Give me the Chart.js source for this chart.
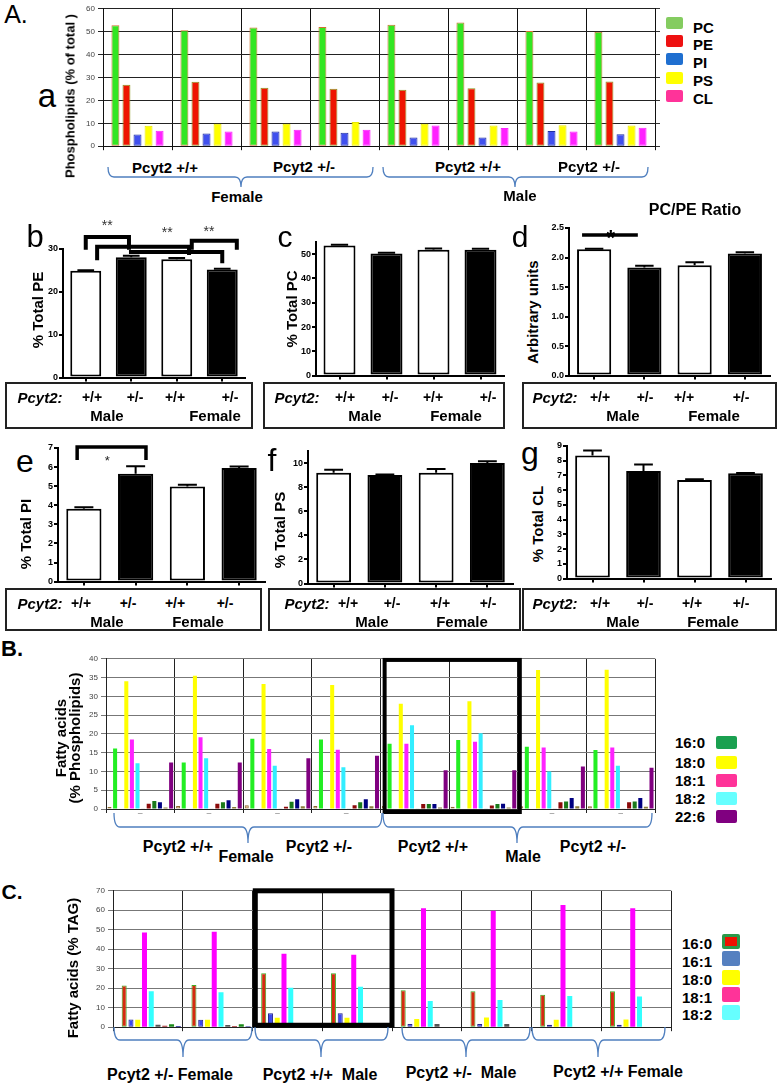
<!DOCTYPE html>
<html>
<head>
<meta charset="utf-8">
<script src="https://cdn.jsdelivr.net/npm/chart.js@4.4.1/dist/chart.umd.min.js"></script>
<style>
body { margin:0; background:#fff; }
#page { position:relative; width:780px; height:1085px; overflow:hidden; font-family:"Liberation Sans", Arial, sans-serif; color:#000; }
#page canvas { position:absolute; }
.t { position:absolute; white-space:pre; line-height:1; transform:translate(-50%,-50%); }
.r { transform:translate(-50%,-50%) rotate(-90deg); text-align:center; }
.box { position:absolute; border:2px solid #222; box-sizing:border-box; }
#braces { position:absolute; left:0; top:0; }
</style>
</head>
<body>
<div id="page"></div>
<script>
Chart.defaults.font.family = '"Liberation Sans", Arial, sans-serif';
Chart.defaults.animation = false;
Chart.defaults.plugins.legend.display = false;
Chart.defaults.plugins.tooltip.enabled = false;

const page = document.getElementById('page');

// A. phospholipid classes (% of total), 8 animals
const A_groups = ['Female +/+', 'Female +/+', 'Female +/-', 'Female +/-', 'Male +/+', 'Male +/+', 'Male +/-', 'Male +/-'];
const A_PC = [52.8, 50.6, 51.8, 52.0, 53.0, 54.0, 50.3, 50.0];
const A_PE = [26.8, 28.1, 25.5, 25.1, 24.7, 25.3, 27.8, 28.2];
const A_PI = [5.1, 5.5, 6.4, 5.9, 3.8, 3.8, 6.6, 5.2];
const A_PS = [8.9, 9.8, 9.8, 10.6, 9.8, 9.0, 9.2, 9.0];
const A_CL = [6.8, 6.4, 7.2, 7.2, 9.0, 8.0, 6.4, 8.1];

// b-g group means and errors
const genotypes = ['+/+ Male', '+/- Male', '+/+ Female', '+/- Female'];
const pe = [24.9, 28.1, 27.6, 25.2], peErr = [0.15, 0.3, 0.3, 0.2];
const pc = [53.6, 50.3, 51.8, 51.8], pcErr = [0.3, 0.3, 0.5, 0.4];
const ratio = [2.14, 1.83, 1.87, 2.07], ratioErr = [0.01, 0.03, 0.05, 0.02];
const pi = [3.82, 5.65, 4.98, 5.95], piErr = [0.08, 0.4, 0.1, 0.08];
const ps = [9.2, 9.0, 9.2, 10.0], psErr = [0.25, 0.05, 0.3, 0.15];
const cl = [8.35, 7.3, 6.7, 7.15], clErr = [0.35, 0.45, 0.05, 0.02];

// B. fatty acids in phospholipids
const B_groups = A_groups;
const B_fa14_0 = [0.5, 0.8, 1.0, 0.8, 0.8, 0.6, 0.7, 0.7];
const B_fa16_0 = [16.1, 12.4, 18.7, 18.5, 17.4, 18.4, 16.6, 15.7];
const B_fa16_1 = [0, 0, 0, 0, 0, 0, 0, 0];
const B_fa18_0 = [34.0, 35.5, 33.3, 33.0, 28.0, 28.7, 37.0, 37.1];
const B_fa18_1 = [18.5, 19.1, 16.0, 15.8, 17.4, 17.9, 16.4, 16.4];
const B_fa18_2 = [12.2, 13.5, 11.5, 11.1, 22.3, 20.2, 10.0, 11.5];
const B_fa18_3 = [0.2, 0.2, 0.2, 0.2, 0.2, 0.2, 0.2, 0.2];
const B_fa20_3 = [1.4, 1.4, 0.6, 1.0, 1.3, 0.9, 1.8, 1.8];
const B_fa20_4 = [2.1, 1.8, 1.9, 1.8, 1.3, 1.3, 2.0, 2.0];
const B_fa20_5 = [1.8, 2.3, 2.6, 2.6, 1.3, 1.4, 2.9, 2.9];
const B_fa22_5 = [0.4, 0.5, 0.7, 0.7, 0.4, 0.4, 0.7, 0.6];
const B_fa22_6 = [12.4, 12.4, 13.5, 14.2, 10.3, 10.3, 11.3, 11.0];

// C. fatty acids in TAG
const C_groups = ['Female +/-', 'Female +/-', 'Male +/+', 'Male +/+', 'Male +/-', 'Male +/-', 'Female +/+', 'Female +/+'];
const C_fa14_0 = [0, 0, 0, 0, 0, 0, 0, 0];
const C_fa16_0 = [21.4, 21.6, 27.7, 27.7, 18.9, 18.5, 16.7, 18.5];
const C_fa16_1 = [4.0, 3.8, 7.1, 7.2, 1.7, 1.7, 1.2, 1.3];
const C_fa18_0 = [3.8, 3.8, 4.8, 4.8, 4.2, 5.0, 3.8, 4.0];
const C_fa18_1 = [48.6, 49.0, 37.7, 37.2, 61.0, 59.7, 62.7, 61.0];
const C_fa18_2 = [18.4, 18.0, 20.3, 20.8, 13.4, 14.0, 16.0, 15.7];
const C_fa18_3 = [1.2, 1.1, 0, 0, 1.6, 1.6, 0, 0];
const C_fa20_4 = [0.7, 0.6, 0, 0, 0, 0, 0, 0];
const C_fa22_5 = [1.5, 1.5, 0, 0, 0, 0, 0, 0];
const C_fa22_6 = [0.6, 0.5, 0, 0, 0, 0, 0, 0];

// annotations (category index, value units)
const bracketsPE = [[0, 0.95, 32.8, 29.8, 29.8], [0.25, 2.27, 30.5, 27.4, 28.6], [0.95, 3.0, 29.3, 29.3, 26.7], [2.33, 3.32, 31.9, 29.8, 29.8]];
const starsPE = [[0.47, 36.3, '**'], [1.79, 34.7, '**'], [2.71, 34.9, '**']];
const linesRatio = [[-0.24, 0.87, 2.38]];
const starsRatio = [[0.33, 2.43, '*']];
const bracketsPI = [[-0.13, 1.2, 7.05, 6.37, 6.37]];
const starsPI = [[0.45, 6.53, '*']];

function extras(o) {
  return {
    id: 'extras',
    afterDatasetsDraw(chart) {
      const ctx = chart.ctx, xs = chart.scales.x, ys = chart.scales.y;
      const X = v => xs.getPixelForValue(v), Y = v => ys.getPixelForValue(v);
      ctx.save();
      ctx.strokeStyle = '#000';
      ctx.lineCap = 'butt';
      if (o.errs) {
        const meta = chart.getDatasetMeta(0);
        ctx.lineWidth = 2;
        o.vals.forEach((v, i) => {
          const x = X(i), hw = meta.data[i].width * 0.27, top = Y(v + o.errs[i]);
          ctx.beginPath();
          ctx.moveTo(x, Y(v)); ctx.lineTo(x, top);
          ctx.moveTo(x - hw, top); ctx.lineTo(x + hw, top);
          ctx.stroke();
        });
      }
      (o.brackets || []).forEach(b => {
        ctx.lineWidth = o.bw || 3.5;
        ctx.beginPath();
        ctx.moveTo(X(b[0]), Y(b[3])); ctx.lineTo(X(b[0]), Y(b[2]));
        ctx.lineTo(X(b[1]), Y(b[2])); ctx.lineTo(X(b[1]), Y(b[4]));
        ctx.stroke();
      });
      (o.lines || []).forEach(l => {
        ctx.lineWidth = 3.5;
        ctx.beginPath();
        ctx.moveTo(X(l[0]), Y(l[2])); ctx.lineTo(X(l[1]), Y(l[2]));
        ctx.stroke();
      });
      (o.stars || []).forEach(s => {
        const size = o.starSize || 13;
        ctx.fillStyle = o.starColor || '#222';
        ctx.font = (o.starBold ? 'bold ' : '') + size + 'px "Liberation Sans", Arial, sans-serif';
        ctx.textAlign = 'center';
        ctx.textBaseline = 'alphabetic';
        ctx.fillText(s[2], X(s[0]), Y(s[1]) + size * 0.58);
      });
      (o.boxes || []).forEach(b => {
        ctx.lineWidth = b[4];
        ctx.lineJoin = 'miter';
        ctx.strokeRect(X(b[0]), Y(b[2]), X(b[1]) - X(b[0]), Y(b[3]) - Y(b[2]));
      });
      ctx.restore();
    }
  };
}

// plot = desired chart area in page pixels
function makeChart(plot, yW, xH, padTop, padRight, config, y2W) {
  const l = plot.l - yW, t = plot.t - padTop;
  const w = plot.r + (y2W || 0) + padRight - l, h = plot.b + xH - t;
  const c = document.createElement('canvas');
  c.width = w; c.height = h;
  c.style.left = l + 'px'; c.style.top = t + 'px';
  c.style.width = w + 'px'; c.style.height = h + 'px';
  page.appendChild(c);
  const o = config.options;
  o.responsive = false;
  o.devicePixelRatio = 1;
  o.layout = { padding: { top: padTop, right: padRight, left: 0, bottom: 0 } };
  o.scales.x.afterFit = s => { s.height = xH; };
  o.scales.y.afterFit = s => { s.width = yW; };
  if (o.scales.y2) o.scales.y2.afterFit = s => { s.width = y2W; };
  return new Chart(c, config);
}

function ds(label, data, bg, border, bw) {
  return { label, data, backgroundColor: bg, borderColor: border || bg, borderWidth: bw || 0, borderSkipped: false };
}

// ---- A ----
makeChart({ l: 103, r: 655, t: 7, b: 149 }, 30, 5, 6, 2, {
  type: 'bar',
  data: {
    labels: A_groups,
    datasets: [
      ds('PC', A_PC, '#33e622', '#d07030', 1),
      ds('PE', A_PE, '#ee1500', '#8a9a20', 1),
      ds('PI', A_PI, '#4050ee', '#2030a0', 1),
      ds('PS', A_PS, '#ffff00', '#e8e800', 1),
      ds('CL', A_CL, '#ff22ff', '#ff22ff', 1)
    ]
  },
  options: {
    categoryPercentage: 0.8, barPercentage: 0.72,
    scales: {
      x: { grid: { color: '#111', tickLength: 4 }, border: { color: '#111' }, ticks: { display: false } },
      y: { min: 0, max: 60, ticks: { stepSize: 10, font: { size: 8 }, color: '#444', padding: 3 },
           grid: { color: '#222', tickLength: 5 }, border: { color: '#111' } },
      y2: { position: 'right', min: 0, max: 60, ticks: { display: false, stepSize: 10 },
            grid: { drawOnChartArea: false, tickLength: 5, color: '#333' }, border: { color: '#111' } }
    }
  }
}, 6);

// ---- b-g ----
function smallPanel(plot, yW, padTop, vals, errs, yMax, step, more, fmt) {
  const o = Object.assign({ vals, errs }, more || {});
  return makeChart(plot, yW, 6, padTop, 4, {
    type: 'bar',
    data: { labels: genotypes, datasets: [{ data: vals, backgroundColor: ['#fff', '#000', '#fff', '#000'],
      borderColor: '#000', borderWidth: 2, borderSkipped: false }] },
    options: {
      categoryPercentage: 0.68, barPercentage: 1,
      scales: {
        x: { grid: { drawOnChartArea: false, offset: false, tickLength: 4, color: '#000', lineWidth: 2 },
             border: { color: '#000', width: 2 }, ticks: { display: false } },
        y: { min: 0, max: yMax,
             ticks: { stepSize: step, includeBounds: false, color: '#000', padding: 1,
                      font: { size: 9, weight: 'bold' }, callback: fmt || (v => v) },
             grid: { drawOnChartArea: false, tickLength: 4, color: '#000', lineWidth: 2 },
             border: { color: '#000', width: 2 } }
      }
    },
    plugins: [extras(o)]
  });
}

smallPanel({ l: 63, r: 245, t: 249, b: 378 }, 22, 42, pe, peErr, 30, 10,
  { brackets: bracketsPE, stars: starsPE, bw: 4, starSize: 14, starColor: '#333' });
smallPanel({ l: 316, r: 504, t: 242, b: 376 }, 24, 10, pc, pcErr, 55, 10);
smallPanel({ l: 569, r: 770, t: 228, b: 376 }, 26, 16, ratio, ratioErr, 2.5, 0.5,
  { lines: linesRatio, stars: starsRatio, starSize: 22, starBold: true, starColor: '#000' }, v => v.toFixed(1));
smallPanel({ l: 58, r: 265, t: 448, b: 582 }, 18, 10, pi, piErr, 7, 1,
  { brackets: bracketsPI, stars: starsPI, bw: 3.5, starSize: 13, starColor: '#222' });
smallPanel({ l: 308, r: 513, t: 451, b: 584 }, 22, 10, ps, psErr, 11, 1);
smallPanel({ l: 567, r: 771, t: 446, b: 579 }, 18, 10, cl, clErr, 9, 1);

// ---- B ----
makeChart({ l: 106, r: 655, t: 657, b: 809 }, 30, 10, 6, 3, {
  type: 'bar',
  data: {
    labels: B_groups,
    datasets: [
      ds('14:0', B_fa14_0, '#d8a070', '#8a6a30', 1),
      ds('16:0', B_fa16_0, '#22ee22'),
      ds('16:1', B_fa16_1, '#ffffff'),
      ds('18:0', B_fa18_0, '#ffff00'),
      ds('18:1', B_fa18_1, '#ff22ff'),
      ds('18:2', B_fa18_2, '#33eeff'),
      ds('18:3', B_fa18_3, '#c8c8c8'),
      ds('20:3', B_fa20_3, '#8b0a0a'),
      ds('20:4', B_fa20_4, '#1a7a1a'),
      ds('20:5', B_fa20_5, '#000080'),
      ds('22:5', B_fa22_5, '#8b7d3a'),
      ds('22:6', B_fa22_6, '#800080')
    ]
  },
  options: {
    categoryPercentage: 0.98, barPercentage: 0.72,
    scales: {
      x: { grid: { color: '#222', tickLength: 4 }, border: { color: '#222' },
           ticks: { callback: () => '_', font: { size: 8 }, color: '#555', padding: -8 } },
      y: { min: 0, max: 40, ticks: { stepSize: 5, font: { size: 8 }, color: '#444', padding: 3 },
           grid: { color: '#777', tickLength: 5 }, border: { color: '#222' } }
    }
  },
  plugins: [extras({ boxes: [[3.56, 5.53, 39.7, -0.8, 4]] })]
});

// ---- C ----
makeChart({ l: 113, r: 671, t: 889, b: 1030 }, 33, 5, 6, 3, {
  type: 'bar',
  data: {
    labels: C_groups,
    datasets: [
      ds('14:0', C_fa14_0, '#ffffff'),
      ds('16:0', C_fa16_0, '#d42a10', '#44aa22', 1),
      ds('16:1', C_fa16_1, '#3a48ee', '#22228a', 1),
      ds('18:0', C_fa18_0, '#ffff00'),
      ds('18:1', C_fa18_1, '#ff00ff'),
      ds('18:2', C_fa18_2, '#33ffff'),
      ds('18:3', C_fa18_3, '#555555'),
      ds('20:4', C_fa20_4, '#a52a2a'),
      ds('22:5', C_fa22_5, '#1a8a1a'),
      ds('22:6', C_fa22_6, '#1a1a99')
    ]
  },
  options: {
    categoryPercentage: 0.97, barPercentage: 0.74,
    scales: {
      x: { grid: { color: '#222', tickLength: 4 }, border: { color: '#222' }, ticks: { display: false } },
      y: { min: 0, max: 70, ticks: { stepSize: 10, font: { size: 8 }, color: '#444', padding: 3 },
           grid: { color: '#777', tickLength: 5 }, border: { color: '#222' } }
    }
  },
  plugins: [extras({ boxes: [[1.54, 3.5, 70, 1.0, 5]] })]
});

// ---- text ----
function T(x, y, s, css, rot) {
  const d = document.createElement('div');
  d.className = 't' + (rot ? ' r' : '');
  d.style.left = x + 'px'; d.style.top = y + 'px';
  d.style.cssText += css || '';
  d.innerHTML = s;
  page.appendChild(d);
  return d;
}
const B15 = 'font-weight:bold;font-size:15px;';
const B16 = 'font-weight:bold;font-size:16px;';

T(16, 14, 'A.', 'font-size:25px;');
T(47, 95, 'a', 'font-size:33px;');
T(35, 236, 'b', 'font-size:31px;');
T(285, 237, 'c', 'font-size:30px;');
T(520, 237, 'd', 'font-size:30px;');
T(25, 461, 'e', 'font-size:32px;');
T(272, 460, 'f', 'font-size:32px;');
T(530, 453, 'g', 'font-size:32px;');
T(12, 649, 'B.', 'font-weight:bold;font-size:22px;');
T(12, 891, 'C.', 'font-weight:bold;font-size:21px;');
T(695, 210, 'PC/PE Ratio', 'font-weight:bold;font-size:16px;');

// axis titles
T(70, 96, 'Phospholipids (% of total )', 'font-weight:bold;font-size:13px;', true);
T(37, 310, '% Total PE', B15, true);
T(291, 309, '% Total PC', B15, true);
T(532, 312, 'Arbitrary units', B15, true);
T(25, 534, '% Total PI', B15, true);
T(279, 530, '% Total PS', B15, true);
T(537, 524, '% Total CL', B15, true);
T(68, 738, 'Fatty acids<br>(% Phospholipids)', 'font-weight:bold;font-size:15px;line-height:14px;white-space:nowrap;', true);
T(72, 968, 'Fatty acids (% TAG)', B15, true);

// A group labels
[['Pcyt2 +/+', 165, 167], ['Pcyt2 +/-', 304, 166], ['Pcyt2 +/+', 468, 166], ['Pcyt2 +/-', 589, 166],
 ['Female', 237, 196], ['Male', 520, 195]].forEach(a => T(a[1], a[2], a[0], B15));
// B group labels
[['Pcyt2 +/+', 178, 847], ['Female', 246, 857], ['Pcyt2 +/-', 319, 847],
 ['Pcyt2 +/+', 433, 847], ['Male', 523, 857], ['Pcyt2 +/-', 593, 847]].forEach(a => T(a[1], a[2], a[0], B16));
// C group labels
[['Pcyt2 +/- Female', 170, 1075], ['Pcyt2 +/+  Male', 320, 1075], ['Pcyt2 +/-  Male', 461, 1073],
 ['Pcyt2 +/+ Female', 618, 1072]].forEach(a => T(a[1], a[2], a[0], B16));

// genotype boxes under b-g
const boxes = [
  { l: 5, t: 382, w: 248, h: 47, p: 40, g: [92, 135, 175, 230], s: [107, 215] },
  { l: 263, t: 382, w: 242, h: 47, p: 297, g: [345, 390, 433, 488], s: [365, 456] },
  { l: 522, t: 382, w: 255, h: 47, p: 555, g: [600, 645, 684, 741], s: [623, 714] },
  { l: 5, t: 588, w: 257, h: 43, p: 40, g: [81, 128, 175, 225], s: [107, 198] },
  { l: 268, t: 588, w: 253, h: 43, p: 307, g: [348, 392, 440, 488], s: [372, 462] },
  { l: 522, t: 588, w: 255, h: 43, p: 555, g: [600, 645, 692, 741], s: [623, 713] }
];
const genoMarks = ['+/+', '+/-', '+/+', '+/-'];
const sexes = ['Male', 'Female'];
boxes.forEach(b => {
  const d = document.createElement('div');
  d.className = 'box';
  d.style.left = b.l + 'px'; d.style.top = b.t + 'px';
  d.style.width = b.w + 'px'; d.style.height = b.h + 'px';
  page.appendChild(d);
  const y1 = b.t + 15, y2 = b.t + 33;
  T(b.p, y1, 'Pcyt2:', 'font-weight:bold;font-style:italic;font-size:15px;');
  b.g.forEach((x, i) => T(x, y1, genoMarks[i], 'font-weight:bold;font-size:14px;'));
  b.s.forEach((x, i) => T(x, y2, sexes[i], B15));
});

// legends
function legend(items, sx, sw, sh, tx, align) {
  items.forEach(it => {
    const s = document.createElement('div');
    s.style.cssText = `position:absolute;left:${sx}px;top:${it[2] - sh / 2}px;width:${sw}px;height:${sh}px;background:${it[1]};border-radius:2px;` + (it[3] || '');
    page.appendChild(s);
    const d = T(tx, it[4] || it[2], it[0], 'font-weight:bold;font-size:15px;transform:translate(0,-50%);');
    if (align === 'right') { d.style.transform = 'translate(-100%,-50%)'; }
  });
}
legend([['PC', '#84cc60', 23, '', 27], ['PE', '#ee1111', 41, '', 44], ['PI', '#1f6fd0', 59, '', 62],
        ['PS', '#ffff00', 78, '', 80], ['CL', '#ff3399', 96, '', 98]], 666, 17, 12, 693);
legend([['16:0', '#1aa050', 742], ['18:0', '#ffff00', 762], ['18:1', '#ff3399', 780],
        ['18:2', '#66ffff', 798], ['22:6', '#800080', 816]], 716, 21, 13, 705, 'right');
legend([['16:0', '#ee1100', 941, 'border:3px solid #2a9a4a;box-sizing:border-box;', 943], ['16:1', '#5580c0', 958, '', 961],
        ['18:0', '#ffff00', 977, '', 979], ['18:1', '#ff3399', 994, '', 997], ['18:2', '#66ffff', 1012, '', 1014]],
       722, 18, 15, 712, 'right');

// braces
const braceSpecs = [
  [108, 373, 241, 167, 177, 187], [383, 648, 515, 167, 177, 187],
  [114, 382, 248, 813, 827, 843], [383, 652, 517, 813, 827, 843],
  [114, 252, 183, 1027, 1040, 1057], [255, 388, 321, 1027, 1040, 1057],
  [402, 530, 466, 1027, 1040, 1057], [532, 665, 598, 1027, 1040, 1057]
];
const NS = 'http://www.w3.org/2000/svg';
const svg = document.createElementNS(NS, 'svg');
svg.setAttribute('id', 'braces');
svg.setAttribute('width', 780); svg.setAttribute('height', 1085);
braceSpecs.forEach(b => {
  const [x1, x2, xm, y0, y1, y2] = b, r = 6;
  const p = document.createElementNS(NS, 'path');
  p.setAttribute('d', `M${x1},${y0} Q${x1},${y1} ${x1 + r},${y1} L${xm - r},${y1} Q${xm},${y1} ${xm},${y2} Q${xm},${y1} ${xm + r},${y1} L${x2 - r},${y1} Q${x2},${y1} ${x2},${y0}`);
  p.setAttribute('fill', 'none');
  p.setAttribute('stroke', '#4f7fbf');
  p.setAttribute('stroke-width', '1.3');
  svg.appendChild(p);
});
page.appendChild(svg);
</script>
</body>
</html>
